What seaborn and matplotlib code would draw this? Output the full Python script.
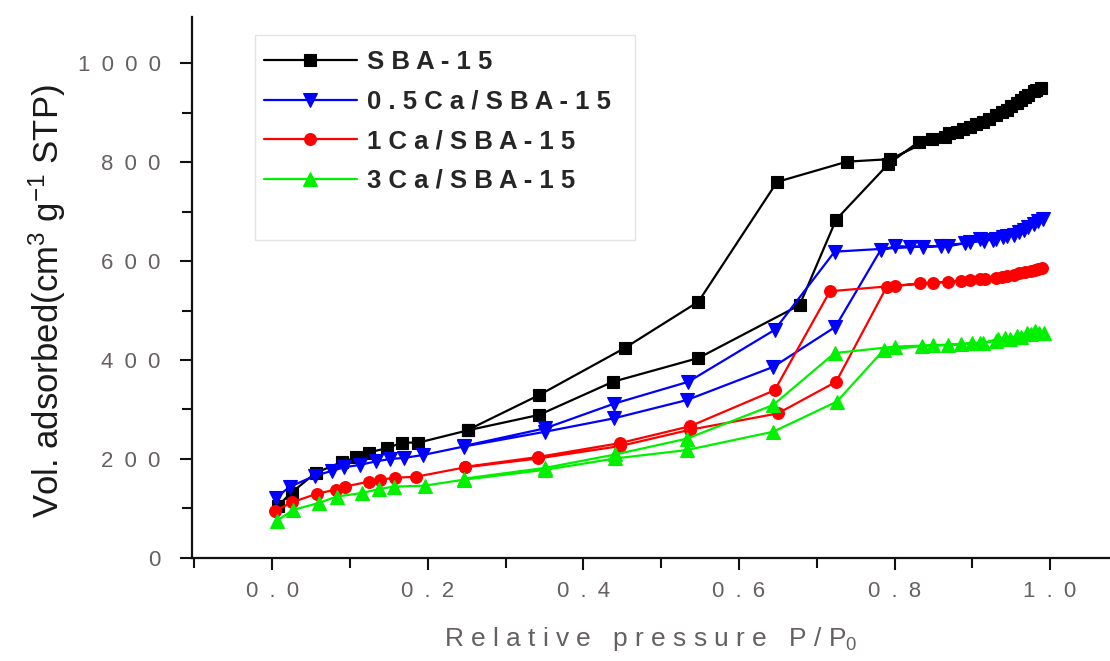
import matplotlib
matplotlib.use("Agg")
import matplotlib.pyplot as plt
from matplotlib.ticker import MultipleLocator, FuncFormatter
from matplotlib.patches import Rectangle
import seaborn as sns

# N2 adsorption-desorption isotherms (relative pressure, volume adsorbed)
samples = ["SBA-15", "0.5Ca/SBA-15", "1Ca/SBA-15", "3Ca/SBA-15"]

sba_ads_p = [0.007, 0.025, 0.056, 0.090, 0.108, 0.124, 0.148, 0.167, 0.188, 0.252, 0.343, 0.438, 0.548,
             0.678, 0.725, 0.792, 0.831, 0.865, 0.880, 0.897, 0.914, 0.931, 0.944, 0.957, 0.968, 0.979, 0.988]
sba_ads_v = [105, 132, 172, 194, 203, 213, 222, 233, 233, 258, 289, 356, 404,
             511, 684, 796, 841, 851, 861, 871, 881, 895, 905, 919, 932, 943, 950]
sba_des_p = [0.982, 0.972, 0.962, 0.950, 0.938, 0.922, 0.905, 0.888, 0.870, 0.848, 0.794, 0.739, 0.649,
             0.548, 0.453, 0.343, 0.252]
sba_des_v = [945, 936, 926, 913, 902, 888, 877, 867, 858, 846, 806, 801, 760,
             518, 424, 329, 259]

ca05_ads_p = [0.005, 0.023, 0.055, 0.077, 0.092, 0.113, 0.133, 0.152, 0.169, 0.194, 0.246, 0.351, 0.439,
              0.533, 0.644, 0.724, 0.782, 0.801, 0.837, 0.869, 0.897, 0.910, 0.927, 0.940, 0.953, 0.966,
              0.979, 0.991]
ca05_ads_v = [122, 144, 166, 176, 183, 188, 195, 200, 202, 208, 225, 255, 282,
              319, 386, 467, 622, 630, 629, 630, 638, 644, 642, 648, 653, 662,
              674, 686]
ca05_des_p = [0.985, 0.972, 0.960, 0.945, 0.930, 0.915, 0.890, 0.860, 0.820, 0.723, 0.646, 0.535, 0.440,
              0.351, 0.246]
ca05_des_v = [682, 668, 658, 650, 645, 641, 636, 631, 628, 619, 461, 356, 312,
              262, 226]

ca1_ads_p = [0.004, 0.025, 0.058, 0.082, 0.093, 0.124, 0.138, 0.158, 0.185, 0.248, 0.342, 0.447, 0.537,
             0.650, 0.725, 0.790, 0.833, 0.869, 0.897, 0.916, 0.938, 0.953, 0.968, 0.981, 0.990]
ca1_ads_v = [95, 112, 130, 138, 144, 154, 158, 162, 164, 183, 201, 226, 259,
             292, 356, 548, 555, 558, 562, 563, 568, 572, 578, 582, 586]
ca1_des_p = [0.985, 0.975, 0.960, 0.945, 0.930, 0.910, 0.885, 0.850, 0.800, 0.717, 0.646, 0.537, 0.447,
             0.342, 0.248]
ca1_des_v = [583, 580, 575, 570, 566, 563, 560, 556, 550, 539, 339, 266, 232,
             204, 184]

ca3_ads_p = [0.006, 0.027, 0.060, 0.083, 0.115, 0.137, 0.156, 0.196, 0.246, 0.351, 0.441, 0.533, 0.644,
             0.726, 0.786, 0.835, 0.869, 0.900, 0.914, 0.933, 0.942, 0.957, 0.970, 0.981, 0.992]
ca3_ads_v = [75, 97, 111, 124, 131, 139, 144, 146, 158, 178, 201, 218, 255,
             316, 420, 428, 430, 434, 434, 443, 445, 448, 454, 458, 455]
ca3_des_p = [0.986, 0.975, 0.962, 0.948, 0.930, 0.910, 0.885, 0.850, 0.800, 0.723, 0.644, 0.533, 0.441,
             0.351, 0.246]
ca3_des_v = [455, 452, 446, 442, 438, 435, 432, 430, 427, 414, 309, 241, 209,
             182, 160]

x_ticks = [0.0, 0.2, 0.4, 0.6, 0.8, 1.0]
y_ticks = [0, 200, 400, 600, 800, 1000]

series = [
    (sba_ads_p + sba_des_p, sba_ads_v + sba_des_v, "#000000", "s", 9.0),
    (ca05_ads_p + ca05_des_p, ca05_ads_v + ca05_des_v, "#0000ff", "v", 10.0),
    (ca1_ads_p + ca1_des_p, ca1_ads_v + ca1_des_v, "#ff0000", "o", 8.5),
    (ca3_ads_p + ca3_des_p, ca3_ads_v + ca3_des_v, "#00f000", "^", 10.0),
]

sns.set_theme(style="ticks")
plt.rcParams["font.family"] = ["Liberation Sans", "DejaVu Sans"]
plt.rcParams["mathtext.fontset"] = "custom"
plt.rcParams["mathtext.rm"] = "Liberation Sans"
plt.rcParams["mathtext.it"] = "Liberation Sans:italic"
plt.rcParams["mathtext.bf"] = "Liberation Sans:bold"

EN_SPACE = "\u2002"


def spaced(text, sep=" "):
    return sep.join(text)


fig = plt.figure(figsize=(11.1, 6.61), dpi=100)
ax = fig.add_axes([0.173, 0.156, 0.827, 0.818])

for (p, v, color, marker, ms), name in zip(series, samples):
    sns.lineplot(x=p, y=v, sort=False, estimator=None, ax=ax, color=color,
                 marker=marker, markersize=ms, markeredgecolor=color,
                 markeredgewidth=0.8, linewidth=1.6, label=name)

ax.set_xlim(-0.103, 1.077)
ax.set_ylim(0, 1093)
ax.set_xticks(x_ticks)
ax.set_yticks(y_ticks)
ax.xaxis.set_minor_locator(MultipleLocator(0.1))
ax.yaxis.set_minor_locator(MultipleLocator(100))
ax.xaxis.set_major_formatter(FuncFormatter(lambda v, pos: spaced(f"{v:.1f}", EN_SPACE)))
ax.yaxis.set_major_formatter(FuncFormatter(lambda v, pos: spaced(f"{v:.0f}", EN_SPACE)))

for side in ("top", "right"):
    ax.spines[side].set_visible(False)
for side in ("left", "bottom"):
    ax.spines[side].set_linewidth(1.6)
    ax.spines[side].set_color("#111111")

ax.tick_params(axis="both", which="major", direction="out", length=8.5, width=1.5,
               color="#111111", labelsize=16, labelcolor="#666060")
ax.tick_params(axis="both", which="minor", direction="out", length=7.5, width=1.5,
               color="#111111")
ax.tick_params(axis="y", which="major", pad=14)
ax.tick_params(axis="x", which="major", pad=8)

ax.set_xlabel(spaced("Relative pressure P/P") + "$_{0}$", fontsize=19, color="#666060")
ax.xaxis.set_label_coords(0.5, -0.125)
ax.xaxis.label.set_va("top")

ax.set_ylabel("Vol. adsorbed(cm$^{3}$ g$^{-1}$ STP)", fontsize=25, color="#1a1a1a")
ax.yaxis.set_label_coords(-0.135, 0.475)

# legend frame drawn as its own box, entries placed inside it
ax.add_patch(Rectangle((0.0686, 0.588), 0.414, 0.379, transform=ax.transAxes,
                       facecolor="white", edgecolor="#e4e4e4", linewidth=1.0, zorder=5))
handles, labels = ax.get_legend_handles_labels()
leg = ax.legend(handles, [spaced(l) for l in labels], loc="upper left",
                bbox_to_anchor=(0.059, 0.972), frameon=False,
                prop={"weight": "bold", "size": 18.5}, handlelength=3.6,
                handletextpad=0.4, labelspacing=0.6, borderpad=0.2)
leg.set_zorder(6)

fig.savefig("out.png", dpi=100)
